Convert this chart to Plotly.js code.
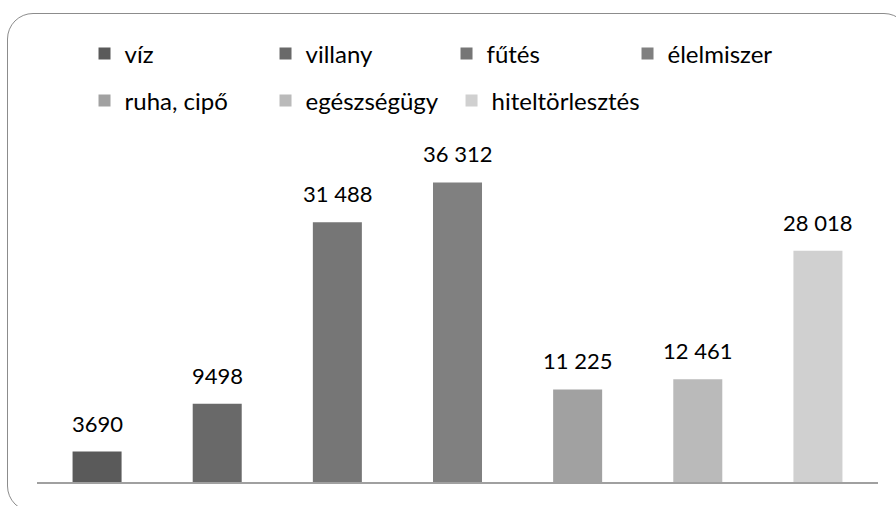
<!DOCTYPE html>
<html>
<head>
<meta charset="utf-8">
<script src="https://cdn.plot.ly/plotly-3.0.1.min.js"></script>
<style>
  html, body { margin: 0; padding: 0; background: #ffffff; overflow: hidden; }
  #frame { position: absolute; left: 7px; top: 13px; width: 903px; height: 499px;
           border: 1.5px solid #8c8c8c; border-radius: 26px; box-sizing: border-box; }
  #chart { position: absolute; left: 0; top: 0; width: 896px; height: 506px; }
</style>
</head>
<body>
<div id="frame"></div>
<div id="chart"></div>
<script>
const categories = ["víz", "villany", "fűtés", "élelmiszer", "ruha, cipő", "egészségügy", "hiteltörlesztés"];
const values = [3690, 9498, 31488, 36312, 11225, 12461, 28018];
const colors = ["#5a5a5a", "#696969", "#767676", "#808080", "#a1a1a1", "#bababa", "#d0d0d0"];
const legendOf = ["legend", "legend", "legend", "legend", "legend2", "legend2", "legend3"];

function fmt(v) {
  const s = String(v);
  if (v < 10000) return s;
  return s.replace(/\B(?=(\d{3})+(?!\d))/g, "\u00a0");
}

const traces = categories.map((c, i) => ({
  type: "bar",
  name: c,
  x: [c],
  y: [values[i]],
  marker: { color: colors[i] },
  legend: legendOf[i],
  hoverinfo: "none"
}));

const annotations = categories.map((c, i) => ({
  x: c, y: values[i], xref: "x", yref: "y",
  text: fmt(values[i]), showarrow: false,
  yanchor: "bottom", yshift: 13,
  font: { family: "Lato, sans-serif", size: 22, color: "#000000" }
}));

const legendCommon = {
  orientation: "h", xanchor: "left", yanchor: "middle",
  font: { family: "Lato, sans-serif", size: 24, color: "#000000" },
  bgcolor: "rgba(0,0,0,0)", borderwidth: 0, itemclick: false, itemdoubleclick: false
};

const layout = {
  width: 896, height: 506,
  margin: { l: 37, r: 18, t: 152, b: 24 },
  paper_bgcolor: "rgba(0,0,0,0)", plot_bgcolor: "rgba(0,0,0,0)",
  barmode: "overlay", bargap: 0.592,
  xaxis: { type: "category", categoryarray: categories, showticklabels: false, ticks: "",
           showgrid: false, zeroline: false, showline: true, linecolor: "#a0a0a0", linewidth: 1.5,
           fixedrange: true },
  yaxis: { range: [0, 40000], visible: false, fixedrange: true },
  legend: Object.assign({}, legendCommon, { x: 0.0565, y: 1.297, entrywidth: 136, entrywidthmode: "pixels" }),
  legend2: Object.assign({}, legendCommon, { x: 0.0565, y: 1.1545, entrywidth: 136, entrywidthmode: "pixels" }),
  legend3: Object.assign({}, legendCommon, { x: 0.4929, y: 1.1545 }),
  annotations: annotations,
  showlegend: true
};

Plotly.newPlot("chart", traces, layout, { displayModeBar: false, staticPlot: true });
</script>
</body>
</html>
